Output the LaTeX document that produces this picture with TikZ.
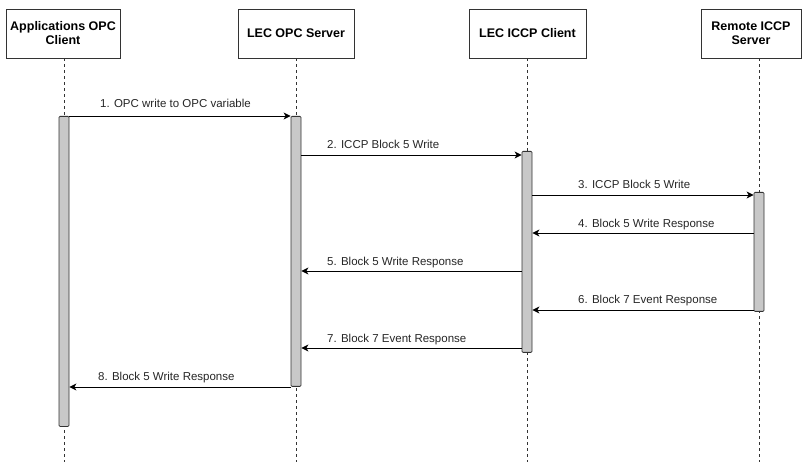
\documentclass[tikz,border=0pt]{standalone}
\usepackage{fontspec}
\setmainfont{Liberation Sans}
\usetikzlibrary{arrows.meta}
\definecolor{barfill}{HTML}{C8C8C8}
\definecolor{lineclr}{HTML}{333333}
\tikzset{
  actor/.style={draw=lineclr, line width=0.8pt, fill=white, minimum width=#1, minimum height=49pt, align=center, font=\bfseries\fontsize{12.5}{14}\selectfont, inner sep=1pt},
  lifeline/.style={draw=lineclr, dashed, dash pattern=on 3pt off 3pt, line width=0.6pt},
  bar/.style={draw=lineclr, fill=barfill, line width=0.8pt, rounded corners=1pt},
  msg/.style={draw=black, line width=0.9pt, -{Stealth[length=7pt,width=7pt,inset=2pt]}},
  lbl/.style={font=\fontsize{11.5}{13}\selectfont, text=black!85, inner sep=0pt, anchor=base west}
}
\begin{document}
\begin{tikzpicture}[x=1pt,y=-1pt]
\useasboundingbox (0,0) rectangle (809,462);
% actors
\node[actor=114pt] (a1) at (63,33.5) {Applications OPC\\Client};
\node[actor=116pt] (a2) at (296,33.5) {LEC OPC Server};
\node[actor=117pt] (a3) at (527.5,33.5) {LEC ICCP Client};
\node[actor=100pt] (a4) at (751,33.5) {Remote ICCP\\Server};
% lifeline ends
\coordinate (e1) at (64,462);
\coordinate (e2) at (296,462);
\coordinate (e3) at (527,462);
\coordinate (e4) at (759,462);
\draw[lifeline] (a1.south -| e1) -- (e1);
\draw[lifeline] (a2.south -| e2) -- (e2);
\draw[lifeline] (a3.south -| e3) -- (e3);
\draw[lifeline] (a4.south -| e4) -- (e4);
% activation bars
\node[bar, minimum width=10pt, minimum height=310pt, inner sep=0pt, anchor=north] (b1) at (64,116) {};
\node[bar, minimum width=10pt, minimum height=270pt, inner sep=0pt, anchor=north] (b2) at (296,116) {};
\node[bar, minimum width=10pt, minimum height=201pt, inner sep=0pt, anchor=north] (b3) at (527,151) {};
\node[bar, minimum width=10pt, minimum height=119pt, inner sep=0pt, anchor=north] (b4) at (759,192) {};
% messages
\draw[msg] (b1.east |- 0,116) -- (b2.west |- 0,116);
\node[lbl] (l1) at (100,108) {1. OPC write to OPC variable};
\draw[msg] (b2.east |- 0,155) -- (b3.west |- 0,155);
\node[lbl] (l2) at (327,149) {2. ICCP Block 5 Write};
\draw[msg] (b3.east |- 0,195) -- (b4.west |- 0,195);
\node[lbl] (l3) at (578,189) {3. ICCP Block 5 Write};
\draw[msg] (b4.west |- 0,233) -- (b3.east |- 0,233);
\node[lbl] (l4) at (578,228) {4. Block 5 Write Response};
\draw[msg] (b3.west |- 0,271) -- (b2.east |- 0,271);
\node[lbl] (l5) at (327,266) {5. Block 5 Write Response};
\draw[msg] (b4.west |- 0,310) -- (b3.east |- 0,310);
\node[lbl] (l6) at (578,304) {6. Block 7 Event Response};
\draw[msg] (b3.west |- 0,348) -- (b2.east |- 0,348);
\node[lbl] (l7) at (327,343) {7. Block 7 Event Response};
\draw[msg] (b2.west |- 0,387) -- (b1.east |- 0,387);
\node[lbl] (l8) at (98,381) {8. Block 5 Write Response};
\end{tikzpicture}
\end{document}
